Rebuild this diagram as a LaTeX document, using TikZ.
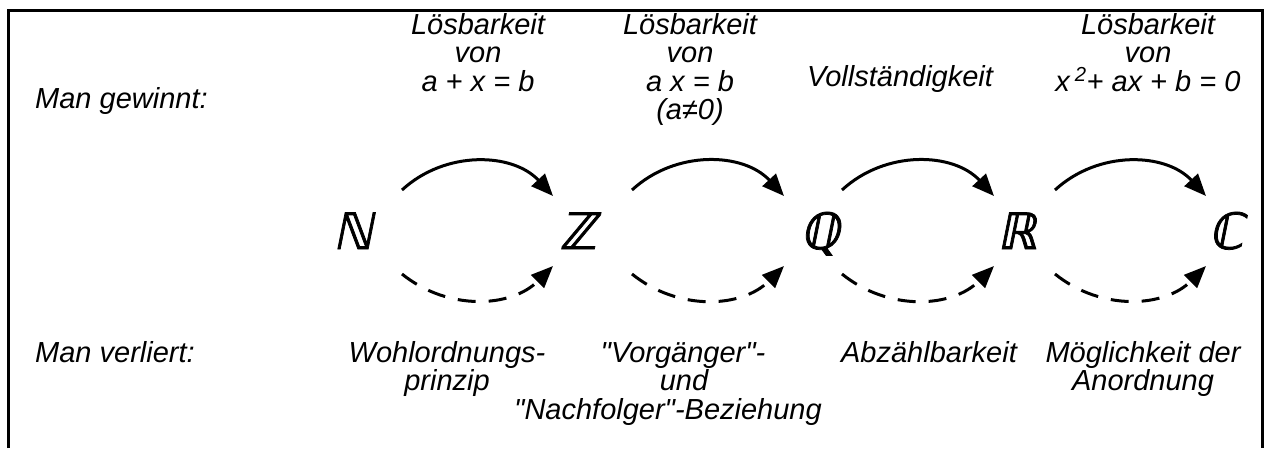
\documentclass[tikz,border=0pt]{standalone}
\usepackage{fontspec}
\setmainfont{Liberation Sans}[Ligatures=TeXOff]
\newfontfamily\zahlfont[FakeSlant=0.2,FakeBold=1.5]{DejaVu Sans}
\usetikzlibrary{arrows.meta}
\begin{document}
\begin{tikzpicture}[x=1pt, y=-1pt,
  every node/.style={font=\fontsize{29}{28.5}\selectfont\itshape, inner sep=0pt},
  lbl/.style={align=center, anchor=base},
  zahl/.style={font=\fontsize{50}{50}\selectfont\zahlfont, anchor=base},
  gewinn/.style={line width=3pt, -{Triangle[length=22pt,width=18pt]}, bend left=45},
  verlust/.style={line width=3pt, dash pattern=on 18pt off 13pt, -{Triangle[length=22pt,width=18pt]}, bend right=42}]
  \useasboundingbox (0,0) rectangle (1266,448);
  % Rahmen
  \draw[line width=3pt] (8,448) -- (8,10) -- (1262,10) -- (1262,448);
  % Zahlbereiche
  \node[zahl] (N) at (353,249) {ℕ};
  \node[zahl] (Z) at (578,249) {ℤ};
  \node[zahl] (Q) at (820,249) {ℚ};
  \node[zahl] (R) at (1017,249) {ℝ};
  \node[zahl] (C) at (1226,249) {ℂ};
  \foreach \a/\b/\s/\e in {N/Z/49/-25, Z/Q/54/-36, Q/R/22/-23, R/C/38/-20} {
    \draw[gewinn] ([shift={(\s,-59)}]\a.base) to ([shift={(\e,-53)}]\b.base);
    \draw[verlust] ([shift={(\s,25)}]\a.base) to ([shift={(\e,17)}]\b.base);
  }
  % Man gewinnt (Knoten an der Grundlinie der letzten Zeile)
  \node[anchor=base west] (gew) at (35,108) {Man gewinnt:};
  \node[lbl] (g1) at (478,91) {Lösbarkeit\\von\\a + x = b};
  \node[lbl] (g2) at (690,119.5) {Lösbarkeit\\von\\a x = b\\(a≠0)};
  \node[lbl] (g3) at (900,86) {Vollständigkeit};
  \node[lbl] (g4) at (1148,91) {Lösbarkeit\\von\\x\,\textsuperscript{2}+ ax + b = 0};
  % Man verliert
  \node[anchor=base west] (verl) at (35,362) {Man verliert:};
  \node[lbl] (v1) at (447,390.5) {Wohlordnungs-\\prinzip};
  \node[lbl] (v2) at (668,419) {\hspace*{30pt}"Vorgänger"-\\\hspace*{32pt}und\\"Nachfolger"-Beziehung};
  \node[lbl] (v3) at (929,362) {Abzählbarkeit};
  \node[lbl] (v4) at (1143,390.5) {Möglichkeit der\\Anordnung};
\end{tikzpicture}
\end{document}
